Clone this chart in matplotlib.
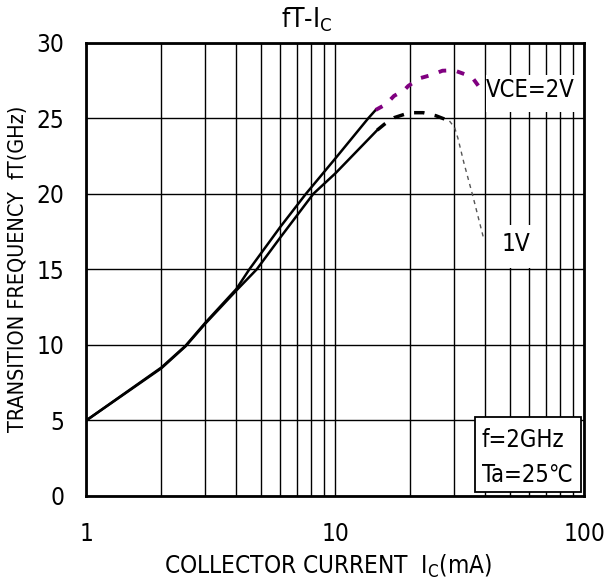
import matplotlib
matplotlib.use("Agg")
import matplotlib.pyplot as plt
from matplotlib.patches import Rectangle
from matplotlib.ticker import FixedLocator, NullFormatter, FixedFormatter

plt.rcParams['font.family'] = ['DejaVu Sans']
plt.rcParams['font.stretch'] = 'condensed'
plt.rcParams['mathtext.fontset'] = 'custom'
plt.rcParams['mathtext.rm'] = 'DejaVu Sans:stretch=condensed'

# ---- data ----
ic_2v_solid = [1, 2, 2.5, 3, 4, 4.51, 6, 7.61, 10, 13.54, 14.5]
ft_2v_solid = [5, 8.5, 9.94, 11.46, 13.7, 15, 17.8, 20, 22.35, 25, 25.55]

ic_1v_solid = [1, 2, 2.5, 3, 4, 4.83, 6, 8.15, 10, 14.72]
ft_1v_solid = [5, 8.45, 9.9, 11.4, 13.6, 15, 17.1, 20, 21.36, 24.22]

ic_2v_ext = [14.5, 15.95, 17.18, 18.9, 19.6, 21.8, 24.3, 26.9, 29.9, 32.9, 35.8, 38.1]
ft_2v_ext = [25.55, 25.93, 26.48, 26.87, 27.14, 27.65, 27.87, 28.15, 28.18, 27.93, 27.6, 26.99]

ic_1v_ext = [14.72, 15.7, 17.2, 19.8, 22.5, 25.3, 28.7]
ft_1v_ext = [24.22, 24.6, 25.04, 25.37, 25.37, 25.17, 24.82]

ic_1v_tail = [28.7, 30.1, 31.0, 32.8, 35.7, 38.4, 39.5]
ft_1v_tail = [24.82, 24.38, 23.7, 22.04, 19.79, 17.73, 16.94]

x_ticks = [1, 10, 100]
x_tick_labels = ['1', '10', '100']
y_ticks = [0, 5, 10, 15, 20, 25, 30]

fig = plt.figure(figsize=(6.06, 5.82), dpi=100)
ax = fig.add_axes([0.1427, 0.1481, 0.8218, 0.7784])
ax.set_xscale('log')
ax.set_xlim(1, 100)
ax.set_ylim(0, 30)

ax.xaxis.set_major_locator(FixedLocator(x_ticks))
ax.xaxis.set_major_formatter(FixedFormatter(x_tick_labels))
minors = [m * d for d in (1, 10) for m in range(2, 10)]
ax.xaxis.set_minor_locator(FixedLocator(minors))
ax.xaxis.set_minor_formatter(NullFormatter())
ax.set_yticks(y_ticks)
ax.tick_params(axis='both', which='both', length=0, labelsize=17.5)
ax.tick_params(axis='x', pad=19)
ax.tick_params(axis='y', pad=16)
ax.grid(True, which='both', axis='x', color='black', linewidth=1.0)
ax.grid(True, which='major', axis='y', color='black', linewidth=1.0)
for s in ax.spines.values():
    s.set_linewidth(2)
    s.set_zorder(10)

# white patches behind labels (they interrupt the grid)
ax.add_patch(Rectangle((0.803, 0.847), 0.19, 0.082, transform=ax.transAxes,
                       facecolor='white', edgecolor='none', zorder=2))
ax.add_patch(Rectangle((0.806, 0.503), 0.105, 0.095, transform=ax.transAxes,
                       facecolor='white', edgecolor='none', zorder=2))
ax.add_patch(Rectangle((0.780, 0.008), 0.214, 0.166, transform=ax.transAxes,
                       facecolor='white', edgecolor='black', linewidth=1.3, zorder=6))

ax.text(0.891, 0.896, 'VCE=2V', transform=ax.transAxes, ha='center', va='center',
        fontsize=17, zorder=7)
ax.text(0.862, 0.556, '1V', transform=ax.transAxes, ha='center', va='center',
        fontsize=17.5, zorder=7)
ax.text(0.794, 0.124, 'f=2GHz', transform=ax.transAxes, ha='left', va='center',
        fontsize=17, zorder=7)
ax.text(0.794, 0.047, 'Ta=25\u2103', transform=ax.transAxes, ha='left', va='center',
        fontsize=17, zorder=7)

ax.plot(ic_2v_solid, ft_2v_solid, color='black', lw=1.8, zorder=5)
ax.plot(ic_1v_solid, ft_1v_solid, color='black', lw=1.8, zorder=5)
ax.plot(ic_2v_ext, ft_2v_ext, color='#800080', lw=2.8, dashes=(2.0, 2.8), zorder=5)
ax.plot(ic_1v_ext, ft_1v_ext, color='black', lw=2.5, dashes=(3.0, 3.0), zorder=5)
ax.plot(ic_1v_tail, ft_1v_tail, color='#555555', lw=1.0, dashes=(3, 3), zorder=5)

fig.text(307 / 606, 1 - 28 / 582, r'fT-I$_\mathregular{C}$', fontsize=19,
         ha='center', va='baseline')
ax.set_xlabel(r'COLLECTOR CURRENT  I$_\mathregular{C}$(mA)', fontsize=17.5)
ax.xaxis.set_label_coords(0.484, -0.126)
ax.set_ylabel('TRANSITION FREQUENCY  fT(GHz)', fontsize=15.5)
ax.yaxis.set_label_coords(-0.118, 0.5)

fig.savefig('out.png', dpi=100)
